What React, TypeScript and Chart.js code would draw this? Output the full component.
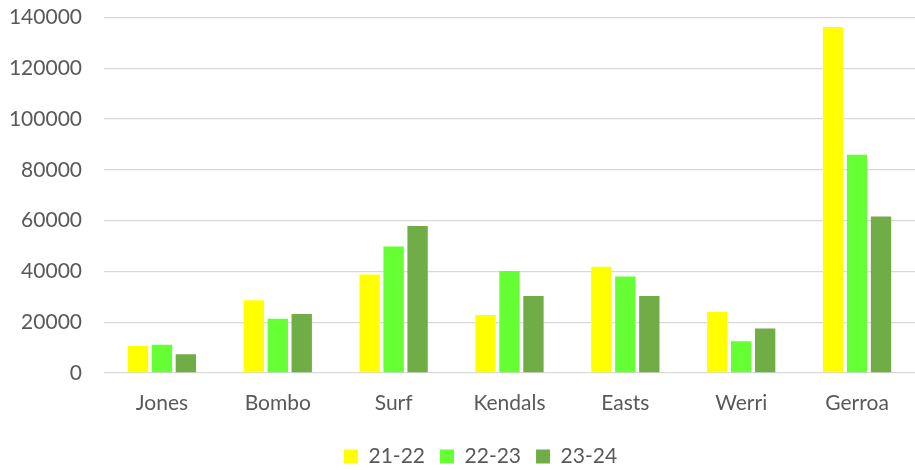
import React, { useEffect, useRef } from "react";
import { Chart, registerables } from "chart.js";

Chart.register(...registerables);

const categories = ["Jones", "Bombo", "Surf", "Kendals", "Easts", "Werri", "Gerroa"];
const series2122 = [10600, 28700, 38800, 22800, 41900, 24000, 136300];
const series2223 = [11100, 21400, 49800, 40200, 38000, 12500, 86000];
const series2324 = [7400, 23200, 57900, 30300, 30300, 17500, 61600];
const seriesLabels = ["21-22", "22-23", "23-24"];
const seriesColors = ["#FFFF00", "#66FF33", "#70AD47"];
const yMax = 140000;
const yStep = 20000;

const FONT = "Lato, 'Open Sans', sans-serif";
const TEXT = "#595959";
const LEGEND_START = 344;
const LEGEND_PAD = 15;
const SHIFT_UP = 17;

const legendShift = {
  id: "legendShift",
  afterLayout(chart: any) {
    const lg = chart.legend;
    if (!lg || !lg.lineWidths) return;
    const x0 = (lg.left + LEGEND_PAD + lg.right - lg.lineWidths[0]) / 2;
    const dx = LEGEND_START - x0;
    lg.left += dx;
    lg.right += dx;
  },
};

export default function App() {
  const ref = useRef<HTMLCanvasElement | null>(null);

  useEffect(() => {
    document.body.style.margin = "0";
    const ctx = ref.current!;
    const chart = new Chart(ctx, {
      type: "bar",
      data: {
        labels: categories,
        datasets: [series2122, series2223, series2324].map((d, i) => ({
          label: seriesLabels[i],
          data: d,
          backgroundColor: seriesColors[i],
          borderWidth: 0,
          barPercentage: 0.85,
          categoryPercentage: 0.62,
        })),
      },
      plugins: [legendShift],
      options: {
        animation: false,
        responsive: false,
        maintainAspectRatio: false,
        layout: { padding: { top: -7, right: 0, left: 0, bottom: -7 } },
        plugins: {
          tooltip: { enabled: false },
          legend: {
            position: "bottom",
            labels: {
              boxWidth: 14,
              boxHeight: 14,
              padding: LEGEND_PAD,
              color: TEXT,
              font: { family: FONT, size: 21 },
            },
          },
        },
        scales: {
          x: {
            grid: { display: false },
            border: { display: false },
            ticks: { color: TEXT, font: { family: FONT, size: 21 }, padding: 10 },
            afterFit: (s: any) => {
              s.height = 58;
            },
          },
          y: {
            min: 0,
            max: yMax,
            ticks: {
              stepSize: yStep,
              color: TEXT,
              font: { family: FONT, size: 21 },
              padding: 22,
              callback: (v: any) => String(v),
            },
            grid: { color: "#d9d9d9", lineWidth: 1.3, drawTicks: false },
            border: { display: false },
            afterFit: (s: any) => {
              s.width = 104;
            },
          },
        },
      },
    });
    return () => chart.destroy();
  }, []);

  return (
    <div style={{ width: 915, height: 470, overflow: "hidden" }}>
      <canvas
        ref={ref}
        width={915}
        height={470 + SHIFT_UP}
        style={{ display: "block", marginTop: -SHIFT_UP }}
      />
    </div>
  );
}
